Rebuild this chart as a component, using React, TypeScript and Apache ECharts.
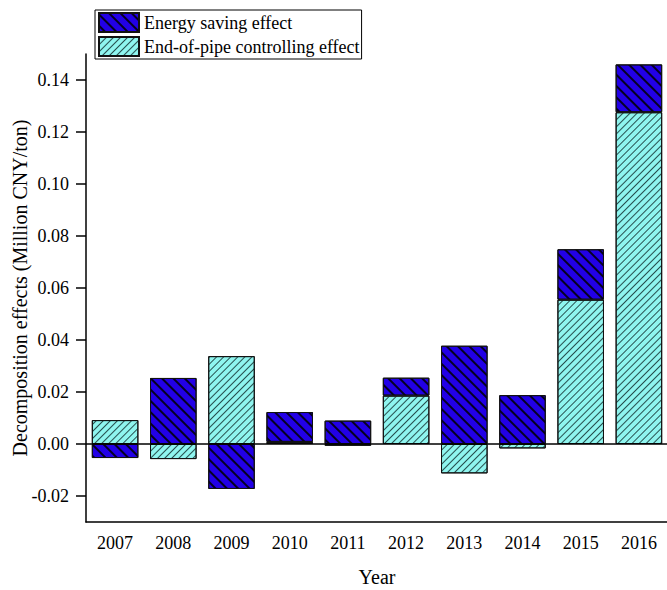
import React, { useEffect, useRef } from "react";
import * as echarts from "echarts";

const years = ["2007", "2008", "2009", "2010", "2011", "2012", "2013", "2014", "2015", "2016"];
const endOfPipe = [0.0092, -0.0058, 0.0338, 0.0008, -0.0007, 0.0186, -0.0113, -0.0017, 0.0555, 0.1276];
const energySaving = [-0.0054, 0.0254, -0.0173, 0.0115, 0.009, 0.0069, 0.0378, 0.0188, 0.0194, 0.0184];
const yTicks = [-0.02, 0, 0.02, 0.04, 0.06, 0.08, 0.1, 0.12, 0.14];

const FONT = "Liberation Serif";

export default function App() {
  const ref = useRef<HTMLDivElement>(null);
  useEffect(() => {
    const chart = echarts.init(ref.current!, null, { renderer: "svg" });
    chart.setOption({
      animation: false,
      backgroundColor: "#ffffff",
      aria: { enabled: true, decal: { show: true } },
      textStyle: { fontFamily: FONT },
      legend: {
        orient: "vertical",
        left: 95,
        top: 10,
        icon: "rect",
        itemWidth: 40,
        itemHeight: 19,
        itemGap: 3,
        padding: [2, 2, 2, 3],
        borderColor: "#000",
        borderWidth: 1,
        textStyle: { fontFamily: FONT, fontSize: 18, color: "#000" },
        data: ["Energy saving effect", "End-of-pipe controlling effect"],
      },
      grid: { left: 86, right: -1, top: 54, bottom: 68, containLabel: false, outerBoundsMode: "none" },
      xAxis: {
        type: "category",
        data: years,
        name: "Year",
        nameLocation: "middle",
        nameGap: 45,
        nameMoveOverlap: false,
        nameTextStyle: { fontFamily: FONT, fontSize: 20, color: "#000" },
        axisLine: { onZero: false, lineStyle: { color: "#000", width: 1.5 } },
        axisTick: { alignWithLabel: true, length: 8, lineStyle: { color: "#000", width: 1.5 } },
        axisLabel: { fontFamily: FONT, fontSize: 18, color: "#000", margin: 12 },
      },
      yAxis: {
        type: "value",
        min: -0.03,
        max: 0.15,
        name: "Decomposition effects (Million CNY/ton)",
        nameLocation: "middle",
        nameGap: 56,
        nameMoveOverlap: false,
        nameTextStyle: { fontFamily: FONT, fontSize: 20, color: "#000" },
        splitLine: { show: false },
        axisLine: { show: true, lineStyle: { color: "#000", width: 1.5 } },
        axisTick: { show: true, length: 10, customValues: yTicks, lineStyle: { color: "#000", width: 1.5 } },
        axisLabel: {
          fontFamily: FONT,
          fontSize: 18,
          color: "#000",
          margin: 17,
          customValues: yTicks,
          formatter: (v: number) => v.toFixed(2),
        },
      },
      series: [
        {
          name: "End-of-pipe controlling effect",
          type: "bar",
          stack: "total",
          barWidth: "80%",
          data: endOfPipe,
          itemStyle: {
            color: "#8ff5ef",
            borderColor: "#111",
            borderWidth: 1,
            decal: {
              symbol: "rect",
              symbolSize: 1,
              color: "rgba(20,50,50,0.85)",
              backgroundColor: null,
              dashArrayX: [1, 0],
              dashArrayY: [0.8, 4],
              rotation: -Math.PI / 4,
            },
          },
        },
        {
          name: "Energy saving effect",
          type: "bar",
          stack: "total",
          barWidth: "80%",
          data: energySaving,
          itemStyle: {
            color: "#2200e6",
            borderColor: "#111",
            borderWidth: 1,
            decal: {
              symbol: "rect",
              symbolSize: 1,
              color: "rgba(0,0,0,0.85)",
              backgroundColor: null,
              dashArrayX: [1, 0],
              dashArrayY: [1.2, 6],
              rotation: Math.PI / 4,
            },
          },
          markLine: {
            silent: true,
            symbol: "none",
            label: { show: false },
            lineStyle: { color: "#000", width: 1.5, type: "solid" },
            data: [{ yAxis: 0 }],
          },
        },
      ],
    });
    return () => chart.dispose();
  }, []);
  return <div ref={ref} style={{ position: "absolute", left: 0, top: 0, width: 667, height: 590 }} />;
}
